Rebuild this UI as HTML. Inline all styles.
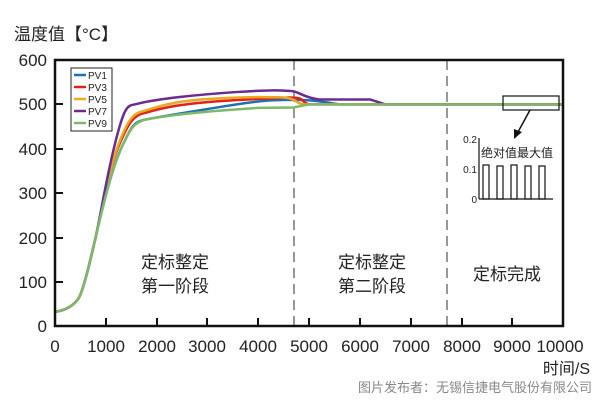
<!DOCTYPE html>
<html><head><meta charset="utf-8"><style>
body{margin:0;background:#fff;}
svg{display:block;font-family:"Liberation Sans","Noto Sans CJK SC",sans-serif;}
</style></head><body>
<svg width="600" height="401" viewBox="0 0 600 401">
<text x="14" y="40" font-size="17" fill="#222">温度值【°C】</text>
<g font-size="17" fill="#222" text-anchor="end">
<text x="47" y="332">0</text><text x="47" y="288">100</text><text x="47" y="244">200</text>
<text x="47" y="199">300</text><text x="47" y="155">400</text><text x="47" y="110">500</text><text x="47" y="66">600</text>
</g>
<g font-size="17" fill="#222" text-anchor="middle">
<text x="55" y="352">0</text><text x="106" y="352">1000</text><text x="157" y="352">2000</text><text x="207" y="352">3000</text>
<text x="258" y="352">4000</text><text x="309" y="352">5000</text><text x="360" y="352">6000</text><text x="411" y="352">7000</text>
<text x="462" y="352">8000</text><text x="512" y="352">9000</text><text x="560" y="352">10000</text>
</g>
<text x="590" y="374" font-size="16" fill="#222" text-anchor="end">时间/S</text>
<text x="592" y="392" font-size="13" fill="#888" text-anchor="end">图片发布者：无锡信捷电气股份有限公司</text>
<g stroke="#777" stroke-width="1.5" stroke-dasharray="10,6">
<line x1="294" y1="60" x2="294" y2="326"/><line x1="447" y1="60" x2="447" y2="326"/>
</g>
<g fill="none" stroke-width="2.5" stroke-linejoin="round" transform="translate(55,326) scale(0.0508,-0.4433)">
<path vector-effect="non-scaling-stroke" stroke="#1f6fb5" d="M0,32 C200,35 350,45 450,60 S700,150 800,200 S1100,350 1300,400 S1550,460 1750,465 C2200,475 2500,480 3300,495 S4300,510 4700,510 S5300,505 5600,500 L10000,500"/>
<path vector-effect="non-scaling-stroke" stroke="#e32119" d="M0,32 C200,35 350,45 450,60 S700,150 800,200 S1050,350 1250,405 S1550,475 1750,480 C2200,495 2500,500 3000,505 S4000,512 4500,515 S4800,505 5000,500 L10000,500"/>
<path vector-effect="non-scaling-stroke" stroke="#e9a921" d="M0,32 C200,35 350,45 450,60 S700,150 800,200 S1050,350 1250,410 S1550,480 1750,485 C2200,502 2500,508 3000,512 S4000,517 4400,516 S4700,502 4900,500 L10000,500"/>
<path vector-effect="non-scaling-stroke" stroke="#6a2c91" d="M0,32 C200,35 350,45 450,60 S700,150 800,200 S1000,330 1200,420 S1450,495 1650,502 C2000,512 2800,522 3600,528 S4500,531 4650,530 S4900,515 5200,511 L6200,511 L6500,500 L10000,500"/>
<path vector-effect="non-scaling-stroke" stroke="#7fb86a" d="M0,32 C200,35 350,45 450,60 S700,150 800,200 S1100,350 1300,400 S1550,455 1750,465 C2200,475 3000,485 4000,492 L4700,493 L5000,500 L10000,500"/>
</g>
<rect x="55" y="60" width="508" height="266" fill="none" stroke="#111" stroke-width="2.5"/>
<g stroke="#111" stroke-width="2">
<line x1="106" y1="326" x2="106" y2="318"/><line x1="157" y1="326" x2="157" y2="318"/><line x1="207" y1="326" x2="207" y2="318"/>
<line x1="258" y1="326" x2="258" y2="318"/><line x1="309" y1="326" x2="309" y2="318"/><line x1="360" y1="326" x2="360" y2="318"/>
<line x1="411" y1="326" x2="411" y2="318"/><line x1="462" y1="326" x2="462" y2="318"/><line x1="512" y1="326" x2="512" y2="318"/>
<line x1="55" y1="282" x2="63" y2="282"/><line x1="55" y1="238" x2="63" y2="238"/><line x1="55" y1="193" x2="63" y2="193"/>
<line x1="55" y1="149" x2="63" y2="149"/><line x1="55" y1="104" x2="63" y2="104"/>
</g>
<rect x="71" y="68" width="41" height="63" fill="#fff" stroke="#222" stroke-width="1"/>
<g stroke-width="2.5">
<line x1="74" y1="75" x2="86" y2="75" stroke="#1f6fb5"/><line x1="74" y1="87" x2="86" y2="87" stroke="#e32119"/>
<line x1="74" y1="99" x2="86" y2="99" stroke="#e9a921"/><line x1="74" y1="111" x2="86" y2="111" stroke="#6a2c91"/>
<line x1="74" y1="123" x2="86" y2="123" stroke="#7fb86a"/>
</g>
<g font-size="10" fill="#222">
<text x="88" y="79">PV1</text><text x="88" y="91">PV3</text><text x="88" y="103">PV5</text><text x="88" y="115">PV7</text><text x="88" y="127">PV9</text>
</g>
<g font-size="17" fill="#222" text-anchor="middle">
<text x="175" y="268">定标整定</text><text x="175" y="292">第一阶段</text>
<text x="372" y="268">定标整定</text><text x="372" y="292">第二阶段</text>
<text x="507" y="280">定标完成</text>
</g>
<rect x="503" y="96" width="56" height="14" fill="none" stroke="#111" stroke-width="1.2"/>
<line x1="530" y1="110" x2="518" y2="132" stroke="#111" stroke-width="1.5"/>
<polygon points="514,139 514,129 522,132" fill="#111"/>
<line x1="479" y1="138" x2="479" y2="199" stroke="#111" stroke-width="1.2"/>
<line x1="479" y1="199" x2="553" y2="199" stroke="#111" stroke-width="1.2"/>
<g font-size="10" fill="#222" text-anchor="end">
<text x="477" y="143">0.2</text><text x="477" y="173">0.1</text><text x="477" y="203">0</text>
</g>
<text x="517" y="157" font-size="12" fill="#222" text-anchor="middle">绝对值最大值</text>
<g fill="none" stroke="#111" stroke-width="1.2">
<rect x="483" y="165" width="6" height="34"/><rect x="497" y="166" width="6" height="33"/><rect x="511" y="165" width="6" height="34"/>
<rect x="525" y="166" width="6" height="33"/><rect x="539" y="166" width="6" height="33"/>
</g>
</svg>
</body></html>
